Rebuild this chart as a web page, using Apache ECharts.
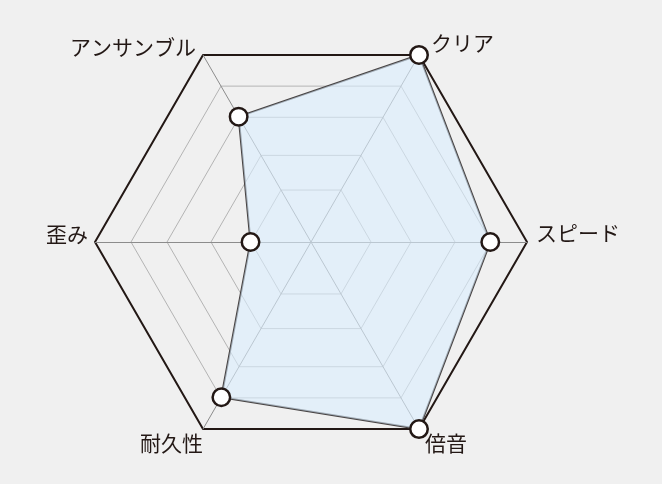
<!DOCTYPE html>
<html><head><meta charset="utf-8">
<script src="https://cdn.jsdelivr.net/npm/echarts@6/dist/echarts.min.js"></script>
<style>html,body{margin:0;padding:0;background:#f0f0f0}#c{width:662px;height:484px}</style>
</head><body><div id="c"></div>
<script>
// Indicators in drawing order (counter-clockwise starting at upper right)
const indicatorNames = ['クリア', 'アンサンブル', '歪み', '耐久性', '倍音', 'スピード'];
const indicatorMax = [100, 100, 100, 100, 100, 100];
// Scores (percent of outer ring)
const scores = [100, 67, 28, 83, 100, 83];

// --- styling ---
const CX = 311, CY = 242, R = 216;
const innerRingRadii = [60, 100, 144, 180];
const FONT = '"Noto Sans CJK JP", "Noto Sans", sans-serif';
const TEXT = '#231815';
const FS = 21;
const labelPadding = [
  [0, 0, 24, 12],
  [0, 7, 16, 0],
  [0, 7, 16, 0],
  [28, 0, 0, 0],
  [28, 0, 0, 6],
  [0, 0, 17, 9]
];

const rich = {};
labelPadding.forEach((p, i) => {
  rich['l' + i] = { fontSize: FS, fontFamily: FONT, color: TEXT, padding: p };
});

const indicators = indicatorNames.map((n, i) => ({ name: n, max: indicatorMax[i], min: 0 }));
const blankIndicators = indicatorNames.map((n, i) => ({ name: '', max: indicatorMax[i], min: 0 }));

const radars = [{
  center: [CX, CY], radius: R, startAngle: 60, splitNumber: 1, shape: 'polygon',
  indicator: indicators, nameGap: 0,
  axisName: {
    show: true, fontSize: FS, fontFamily: FONT, color: TEXT,
    formatter: (name) => '{l' + indicatorNames.indexOf(name) + '|' + name + '}',
    rich: rich
  },
  axisLine: { show: true, lineStyle: { color: '#8c8c8c', width: 1 } },
  splitLine: { show: true, lineStyle: { color: '#231815', width: 2 } },
  splitArea: { show: false },
  z: 2
}];
innerRingRadii.forEach(r => {
  radars.push({
    center: [CX, CY], radius: r, startAngle: 60, splitNumber: 1, shape: 'polygon',
    indicator: blankIndicators,
    axisName: { show: false },
    axisLine: { show: false },
    axisTick: { show: false },
    axisLabel: { show: false },
    splitLine: { show: true, lineStyle: { color: '#b4b4b4', width: 1 } },
    splitArea: { show: false },
    z: 1
  });
});

const chart = echarts.init(document.getElementById('c'), null, { renderer: 'canvas' });
chart.setOption({
  backgroundColor: '#f0f0f0',
  animation: false,
  radar: radars,
  series: [{
    type: 'radar',
    radarIndex: 0,
    z: 3,
    symbol: 'circle',
    symbolSize: 17.5,
    itemStyle: { color: '#ffffff', borderColor: '#231815', borderWidth: 2.5 },
    lineStyle: { color: '#474343', width: 2 },
    areaStyle: { color: 'rgba(218,239,255,0.6)', opacity: 1 },
    data: [{ value: scores, name: 'score' }]
  }]
});
</script>
</body></html>
